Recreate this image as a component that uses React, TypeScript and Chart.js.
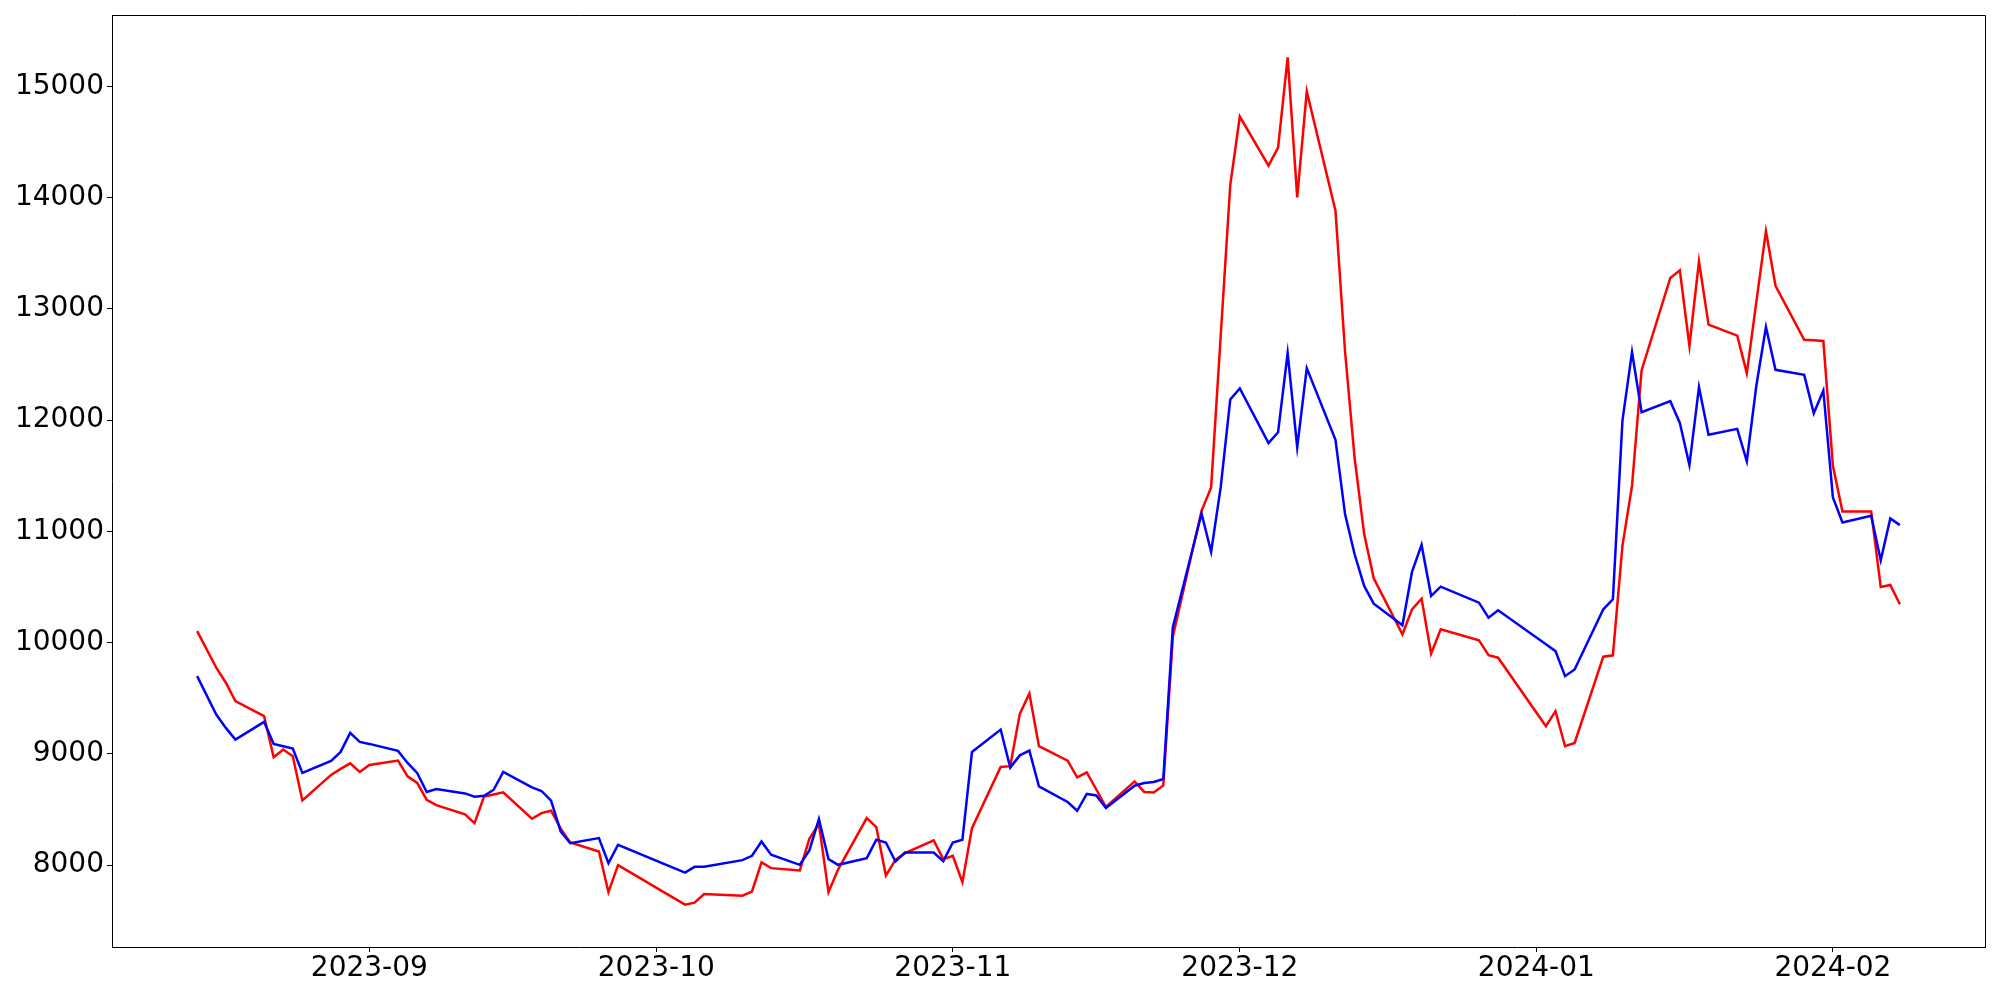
import React, { useEffect, useRef } from "react";
import { Chart, registerables } from "chart.js";

Chart.register(...registerables);

// Trading days (Korean market calendar) shown in the chart
const tradingDays: string[] = [
  "2023-08-14", "2023-08-16", "2023-08-17", "2023-08-18", "2023-08-21", "2023-08-22", "2023-08-23", "2023-08-24", "2023-08-25", "2023-08-28", "2023-08-29", "2023-08-30", "2023-08-31",
  "2023-09-01", "2023-09-04", "2023-09-05", "2023-09-06", "2023-09-07", "2023-09-08", "2023-09-11", "2023-09-12", "2023-09-13", "2023-09-14", "2023-09-15", "2023-09-18", "2023-09-19", "2023-09-20", "2023-09-21", "2023-09-22", "2023-09-25", "2023-09-26", "2023-09-27",
  "2023-10-04", "2023-10-05", "2023-10-06", "2023-10-10", "2023-10-11", "2023-10-12", "2023-10-13", "2023-10-16", "2023-10-17", "2023-10-18", "2023-10-19", "2023-10-20", "2023-10-23", "2023-10-24", "2023-10-25", "2023-10-26", "2023-10-27", "2023-10-30", "2023-10-31",
  "2023-11-01", "2023-11-02", "2023-11-03", "2023-11-06", "2023-11-07", "2023-11-08", "2023-11-09", "2023-11-10", "2023-11-13", "2023-11-14", "2023-11-15", "2023-11-16", "2023-11-17", "2023-11-20", "2023-11-21", "2023-11-22", "2023-11-23", "2023-11-24", "2023-11-27", "2023-11-28", "2023-11-29", "2023-11-30",
  "2023-12-01", "2023-12-04", "2023-12-05", "2023-12-06", "2023-12-07", "2023-12-08", "2023-12-11", "2023-12-12", "2023-12-13", "2023-12-14", "2023-12-15", "2023-12-18", "2023-12-19", "2023-12-20", "2023-12-21", "2023-12-22", "2023-12-26", "2023-12-27", "2023-12-28",
  "2024-01-02", "2024-01-03", "2024-01-04", "2024-01-05", "2024-01-08", "2024-01-09", "2024-01-10", "2024-01-11", "2024-01-12", "2024-01-15", "2024-01-16", "2024-01-17", "2024-01-18", "2024-01-19", "2024-01-22", "2024-01-23", "2024-01-24", "2024-01-25", "2024-01-26", "2024-01-29", "2024-01-30", "2024-01-31",
  "2024-02-01", "2024-02-02", "2024-02-05", "2024-02-06", "2024-02-07", "2024-02-08",
];

const redSeries: number[] = [
  10104, 9775, 9640, 9474, 9339, 8970, 9039, 8979, 8582, 8811, 8865, 8915, 8838,
  8901, 8940, 8798, 8739, 8588, 8540, 8456, 8378, 8618, 8636, 8654, 8417, 8468, 8489, 8330, 8204, 8123, 7757, 8000,
  7645, 7663, 7741, 7726, 7762, 8024, 7973, 7952, 8237, 8372, 7757, 7960, 8423, 8342, 7906, 8048, 8108, 8222, 8054,
  8084, 7847, 8333, 8883, 8890, 9360, 9543, 9069, 8940, 8789, 8834, 8680, 8523, 8753, 8658, 8654, 8717, 10055, 11186, 11396, 12755, 14113,
  14730, 14288, 14450, 15262, 14003, 14955, 13883, 12618, 11660, 10976, 10578, 10075, 10300, 10396, 9901, 10120, 10021, 9888, 9865,
  9249, 9384, 9069, 9099, 9874, 9886, 10870, 11411, 12447, 13279, 13348, 12668, 13429, 12859, 12760, 12423, 13066, 13699, 13207, 12723, 12718, 12712,
  11591, 11180, 11180, 10501, 10519, 10345,
];

const blueSeries: number[] = [
  9699, 9354, 9234, 9129, 9288, 9090, 9069, 9048, 8829, 8937, 9018, 9189, 9108,
  9090, 9027, 8919, 8829, 8658, 8685, 8645, 8615, 8624, 8678, 8838, 8699, 8667, 8579, 8303, 8198, 8243, 8018, 8183,
  7933, 7985, 7985, 8045, 8084, 8213, 8093, 8003, 8132, 8414, 8054, 8003, 8063, 8228, 8204, 8033, 8114, 8114, 8036,
  8204, 8228, 9018, 9219, 8877, 8987, 9030, 8708, 8568, 8489, 8640, 8627, 8514, 8714, 8739, 8748, 8775, 10140, 11161, 10816, 11396, 12186,
  12285, 11795, 11892, 12604, 11757, 12468, 11823, 11156, 10795, 10510, 10351, 10156, 10636, 10879, 10420, 10504, 10360, 10225, 10291,
  9985, 9924, 9699, 9759, 10300, 10390, 11996, 12613, 12072, 12171, 11976, 11597, 12297, 11870, 11922, 11631, 12312, 12838, 12453, 12408, 12063, 12267,
  11306, 11081, 11141, 10741, 11117, 11057,
];

const monthTickLabels: string[] = ["2023-09", "2023-10", "2023-11", "2023-12", "2024-01", "2024-02"];
const yTickValues: number[] = [8000, 9000, 10000, 11000, 12000, 13000, 14000, 15000];

function toDay(s: string): number {
  const parts = s.split("-").map(Number);
  return Date.UTC(parts[0], parts[1] - 1, parts[2] || 1) / 86400000;
}

function dayToLabel(v: number): string {
  const d = new Date(v * 86400000);
  const m = d.getUTCMonth() + 1;
  return `${d.getUTCFullYear()}-${m < 10 ? "0" + m : m}`;
}

const framePlugin = {
  id: "frame",
  afterDraw(chart: any) {
    const { ctx, chartArea } = chart;
    ctx.save();
    ctx.strokeStyle = "#000";
    ctx.lineWidth = 1;
    ctx.beginPath();
    ctx.moveTo(Math.round(chartArea.left) + 0.5, Math.round(chartArea.top) + 0.5);
    ctx.lineTo(Math.round(chartArea.right) + 0.5, Math.round(chartArea.top) + 0.5);
    ctx.lineTo(Math.round(chartArea.right) + 0.5, Math.round(chartArea.bottom) + 0.5);
    ctx.stroke();
    ctx.restore();
  },
};

export default function App() {
  const canvasRef = useRef<HTMLCanvasElement | null>(null);

  useEffect(() => {
    if (!canvasRef.current) return;
    const xs = tradingDays.map(toDay);
    const redPts = xs.map((x, i) => ({ x, y: redSeries[i] }));
    const bluePts = xs.map((x, i) => ({ x, y: blueSeries[i] }));

    const xFirst = xs[0];
    const xLast = xs[xs.length - 1];
    const xSpan = xLast - xFirst;
    const allY = redSeries.concat(blueSeries);
    const yLo = Math.min(...allY);
    const yHi = Math.max(...allY);
    const ySpan = yHi - yLo;

    const font = { family: "'DejaVu Sans', sans-serif", size: 28 };

    const chart = new Chart(canvasRef.current, {
      type: "line",
      data: {
        datasets: [
          {
            data: bluePts,
            borderColor: "#0000ff",
            borderWidth: 2.5,
            pointRadius: 0,
            tension: 0,
            fill: false,
            order: 1,
          },
          {
            data: redPts,
            borderColor: "#ff0000",
            borderWidth: 2.5,
            pointRadius: 0,
            tension: 0,
            fill: false,
            order: 2,
          },
        ],
      },
      options: {
        animation: false,
        responsive: false,
        devicePixelRatio: 1,
        layout: { padding: { top: 15, right: 15, left: 0, bottom: 0 } },
        plugins: {
          legend: { display: false },
          tooltip: { enabled: false },
        },
        scales: {
          x: {
            type: "linear",
            min: xFirst - 0.05 * xSpan,
            max: xLast + 0.05 * xSpan,
            afterBuildTicks: (scale: any) => {
              scale.ticks = monthTickLabels.map((l) => ({ value: toDay(l) }));
            },
            afterFit: (scale: any) => {
              scale.height = 53;
              scale.paddingLeft = 0;
              scale.paddingRight = 0;
            },
            ticks: {
              callback: (v: any) => dayToLabel(Number(v)),
              font,
              color: "#000",
              padding: 0,
              maxRotation: 0,
              autoSkip: false,
            },
            grid: {
              drawOnChartArea: false,
              drawTicks: true,
              tickLength: 5,
              color: "#000",
            },
            border: { display: true, color: "#000", width: 1 },
          },
          y: {
            type: "linear",
            min: yLo - 0.05 * ySpan,
            max: yHi + 0.05 * ySpan,
            afterBuildTicks: (scale: any) => {
              scale.ticks = yTickValues.map((v) => ({ value: v }));
            },
            afterFit: (scale: any) => {
              scale.width = 112;
              scale.paddingTop = 0;
              scale.paddingBottom = 0;
            },
            ticks: {
              callback: (v: any) => String(v),
              font,
              color: "#000",
              padding: 3,
              autoSkip: false,
            },
            grid: {
              drawOnChartArea: false,
              drawTicks: true,
              tickLength: 5,
              color: "#000",
            },
            border: { display: true, color: "#000", width: 1 },
          },
        },
      },
      plugins: [framePlugin],
    } as any);

    return () => {
      chart.destroy();
    };
  }, []);

  return (
    <canvas
      ref={canvasRef}
      width={2000}
      height={1000}
      style={{ position: "absolute", left: 0, top: 0, width: "2000px", height: "1000px", background: "#fff" }}
    />
  );
}
